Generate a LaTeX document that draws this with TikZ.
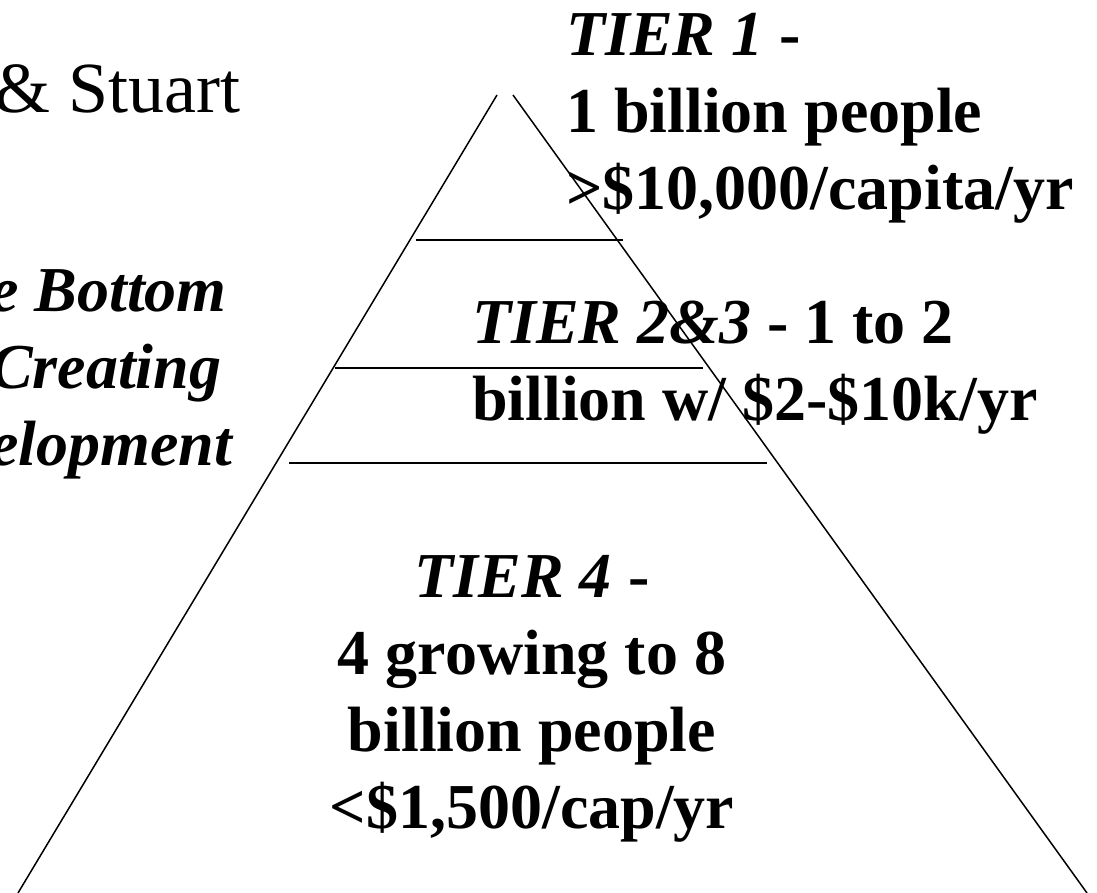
\documentclass[tikz,border=0pt]{standalone}
\usepackage{fontspec}
\setmainfont{Liberation Serif}
\usetikzlibrary{positioning}
\tikzset{
    side/.style={draw=black, line width=1.5pt},
    divider/.style={draw=black, line width=2.6pt},
    tiertext/.style={font=\fontsize{64}{77}\selectfont\bfseries, inner sep=0pt},
    titletext/.style={font=\fontsize{72}{86}\selectfont, inner sep=0pt, anchor=base west}
}
\begin{document}
\begin{tikzpicture}[x=1pt, y=-1pt]
    \useasboundingbox (0,0) rectangle (1097,893);

    % pyramid outline
    \coordinate (ApexL) at (497,95);
    \coordinate (ApexR) at (513,95);
    \coordinate (BaseL) at (18,893);
    \coordinate (BaseR) at (1087,893);
    \draw [side] (ApexL) -- (BaseL);
    \draw [side] (ApexR) -- (BaseR);

    % tier dividers
    \draw [divider] (416,240) -- (623,240);
    \draw [divider] (335,368) -- (703,368);
    \draw [divider] (289,463) -- (767,463);

    % left title, cut off by the page edge (base = last line)
    \node [titletext] (Authors) at (-6,113) {\& Stuart};
    \node [tiertext, align=left, anchor=base west] (Title) at (-10,465)
        {\itshape e Bottom\\\itshape Creating\\\itshape elopment};

    % tier labels
    \node [tiertext, align=left, anchor=base west] (Tier1) at (566,210)
        {\textit{TIER 1} -\\1 billion people\\>\$10,000/capita/yr};
    \node [tiertext, align=left, anchor=base west] (Tier23) at (472,420)
        {\textit{TIER 2\&3} - 1 to 2\\billion w/ \$2-\$10k/yr};
    \node [tiertext, align=center, anchor=base] (Tier4) at (532,828)
        {\textit{TIER 4} -\\4 growing to 8\\billion people\\<\$1,500/cap/yr};
\end{tikzpicture}
\end{document}
